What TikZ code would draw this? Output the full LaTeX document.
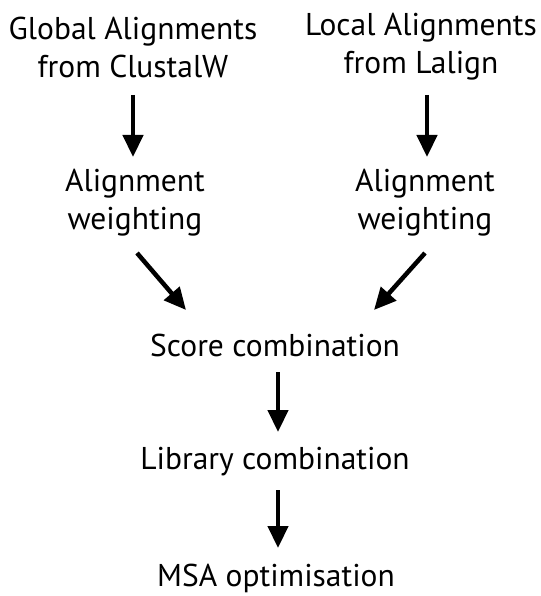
\documentclass[tikz,border=0pt]{standalone}
\usepackage{fontspec}
\setmainfont{PT Sans}
\usetikzlibrary{arrows.meta}
\begin{document}
\begin{tikzpicture}[x=1pt,y=-1pt,
  lbl/.style={align=center,font=\fontsize{31.5}{38}\selectfont,inner sep=0pt},
  flow/.style={line width=4.5pt,-{Triangle[length=22pt,width=20pt]},shorten >=0pt}]
\useasboundingbox (0,0) rectangle (540,596);
\node[lbl] (g) at (133,47) {Global Alignments\\from ClustalW};
\node[lbl] (l) at (421,47) {Local Alignments\\from Lalign};
\node[lbl] (wg) at (135,203) {Alignment\\weighting};
\node[lbl] (wl) at (425,203) {Alignment\\weighting};
\node[lbl] (s) at (275,345) {Score combination};
\node[lbl] (lib) at (275,462) {Library combination};
\node[lbl] (m) at (276,578) {MSA optimisation};
\coordinate (a1s) at (133,95);  \coordinate (a1e) at (133,157);
\coordinate (a2s) at (427,95);  \coordinate (a2e) at (427,157);
\coordinate (a3s) at (137,253); \coordinate (a3e) at (186,310);
\coordinate (a4s) at (425,253); \coordinate (a4e) at (374,310);
\coordinate (a5s) at (278,372); \coordinate (a5e) at (278,432);
\coordinate (a6s) at (278,490); \coordinate (a6e) at (278,548);
\draw[flow] (a1s) -- (a1e);
\draw[flow] (a2s) -- (a2e);
\draw[flow] (a3s) -- (a3e);
\draw[flow] (a4s) -- (a4e);
\draw[flow] (a5s) -- (a5e);
\draw[flow] (a6s) -- (a6e);
\end{tikzpicture}
\end{document}
